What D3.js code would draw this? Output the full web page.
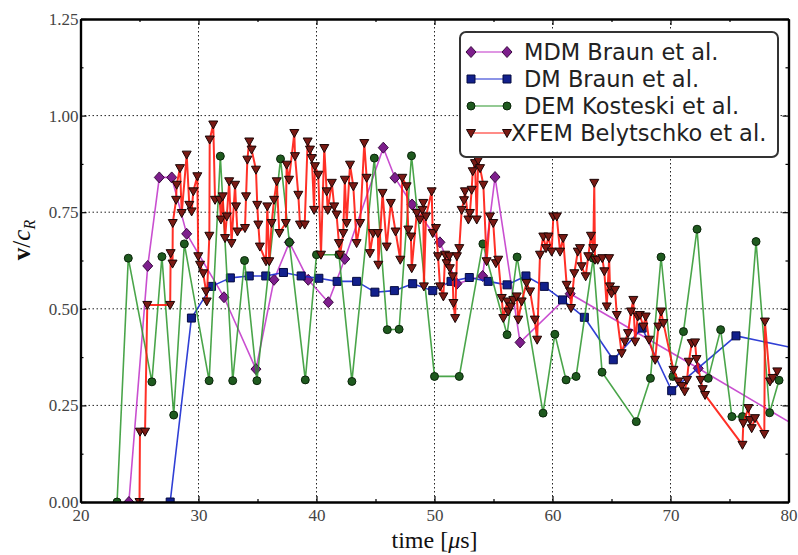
<!DOCTYPE html>
<html><head><meta charset="utf-8">
<script src="https://cdn.jsdelivr.net/npm/d3@7"></script>
<style>body{margin:0;background:#fff}</style>
</head><body><svg id="c" width="798" height="555"></svg>
<script>
// ---------- data ----------
const xTicks=[20,30,40,50,60,70,80];
const xMinor=[25,35,45,55,65,75];
const yTicks=[0,0.25,0.5,0.75,1.0,1.25];
const yMinor=[0.125,0.375,0.625,0.875,1.125];
const seriesNames=["MDM Braun et al.","DM Braun et al.","DEM Kosteski et al.","XFEM Belytschko et al."];

const mdmTime=[24.1,25.7,26.68,27.73,29.0,32.16,34.87,36.4,37.7,39.3,41.0,42.4,45.66,46.65,48.1,50.46,51.9,54.08,55.13,57.25,61.5,72.35,81.0];
const mdmVel =[0,0.611,0.84,0.84,0.694,0.53,0.344,0.575,0.672,0.575,0.517,0.629,0.917,0.839,0.77,0.672,0.565,0.585,0.841,0.413,0.539,0.346,0.19];

const dmTime=[27.6,29.4,31.1,32.7,34.3,35.7,37.2,38.7,40.2,41.75,43.4,44.95,46.6,48.15,49.85,51.4,52.95,54.55,56.15,57.75,59.3,60.85,62.7,65.15,67.6,70.1,75.55,81.0];
const dmVel =[0,0.476,0.558,0.58,0.585,0.585,0.594,0.585,0.579,0.571,0.571,0.543,0.547,0.565,0.547,0.571,0.581,0.571,0.562,0.585,0.558,0.523,0.478,0.368,0.45,0.288,0.43,0.395];

const demTime=[23.1,24.05,26.05,26.9,27.9,28.8,30.9,31.85,32.9,33.9,34.95,36.95,37.7,39.05,40.0,41.9,43.0,44.9,46.0,47.0,48.05,50.0,52.1,54.1,56.15,57.0,59.2,60.2,61.15,62.0,63.45,64.2,67.1,68.3,69.2,70.2,71.1,72.25,73.2,74.25,75.2,76.1,77.25,78.4,79.2];
const demVel =[0,0.631,0.311,0.635,0.225,0.668,0.314,0.895,0.314,0.625,0.314,0.888,0.672,0.316,0.64,0.64,0.312,0.89,0.446,0.447,0.896,0.325,0.325,0.668,0.433,0.634,0.23,0.434,0.316,0.325,0.631,0.336,0.208,0.32,0.634,0.325,0.441,0.706,0.32,0.446,0.221,0.221,0.674,0.231,0.315];

const xfemTime=[25.0,25.04,25.47,25.66,27.6,27.64,27.8,27.82,28.1,28.15,28.43,28.58,29.0,29.22,29.42,29.56,29.9,29.98,30.13,30.4,30.64,30.7,30.92,30.95,31.25,31.4,31.8,31.9,32.05,32.25,32.4,32.6,32.8,33.1,33.18,33.3,33.94,34.03,34.14,34.3,34.5,34.87,34.98,35.07,35.2,35.72,35.83,36.0,36.2,36.4,36.63,36.85,37.4,37.47,37.67,38.12,38.18,38.46,38.6,39.0,39.25,39.45,39.6,39.8,39.87,40.15,40.38,40.66,40.86,40.95,41.3,41.5,41.7,41.9,42.0,42.27,42.4,42.56,42.84,43.12,43.4,43.7,44.05,44.25,44.53,44.8,45.2,45.24,45.6,45.95,46.3,46.7,47.1,47.27,47.64,47.78,48.0,48.07,48.5,48.77,48.97,49.05,49.1,49.28,49.76,49.85,50.13,50.3,50.47,50.75,50.9,51.03,51.25,51.3,51.54,51.6,51.75,51.9,52.1,52.3,52.5,52.58,52.87,53.0,53.15,53.24,53.43,53.58,53.7,53.86,54.14,54.42,54.7,54.98,55.2,55.4,55.7,55.83,56.17,56.25,56.46,56.68,56.97,57.1,57.39,57.8,58.1,58.5,58.7,58.94,59.22,59.45,59.65,59.93,60.07,60.36,60.64,60.9,61.2,61.5,61.57,61.85,62.14,62.33,62.47,62.81,63.03,63.26,63.46,63.54,63.6,63.83,64.22,64.39,64.6,64.8,64.87,65.0,65.3,65.45,65.86,66.14,66.4,66.65,66.85,67.0,67.22,67.4,67.7,67.9,68.18,68.7,68.97,69.2,69.4,70.25,70.66,70.95,71.2,71.4,71.55,71.8,72.08,72.2,72.56,72.73,72.93,76.1,76.17,76.6,76.74,76.88,77.16,77.95,78.0,78.43,78.66,79.05];
const xfemVel =[0,0.182,0.182,0.51,0.51,0.644,0.617,0.722,0.782,0.821,0.864,0.748,0.899,0.769,0.752,0.804,0.843,0.636,0.614,0.592,0.545,0.519,0.689,0.938,0.977,0.782,0.782,0.731,0.791,0.683,0.739,0.83,0.67,0.821,0.765,0.7,0.709,0.791,0.886,0.933,0.912,0.86,0.769,0.718,0.661,0.623,0.765,0.623,0.722,0.782,0.83,0.696,0.722,0.873,0.834,0.955,0.895,0.795,0.718,0.718,0.933,0.912,0.89,0.756,0.869,0.847,0.64,0.916,0.804,0.756,0.826,0.765,0.744,0.67,0.64,0.696,0.834,0.722,0.873,0.817,0.67,0.722,0.929,0.839,0.644,0.696,0.696,0.614,0.8,0.661,0.774,0.70,0.627,0.839,0.817,0.705,0.687,0.605,0.748,0.731,0.756,0.774,0.558,0.739,0.804,0.696,0.709,0.636,0.558,0.532,0.64,0.618,0.636,0.605,0.584,0.515,0.476,0.636,0.657,0.756,0.781,0.804,0.731,0.748,0.808,0.856,0.877,0.731,0.884,0.864,0.821,0.623,0.739,0.722,0.618,0.627,0.528,0.476,0.519,0.493,0.506,0.523,0.532,0.472,0.519,0.567,0.545,0.472,0.42,0.64,0.687,0.657,0.687,0.648,0.739,0.739,0.648,0.683,0.562,0.545,0.502,0.592,0.648,0.657,0.61,0.584,0.636,0.689,0.657,0.826,0.627,0.627,0.631,0.597,0.506,0.631,0.558,0.54,0.549,0.484,0.385,0.415,0.437,0.493,0.523,0.415,0.48,0.484,0.454,0.48,0.42,0.368,0.454,0.493,0.463,0.342,0.312,0.3,0.286,0.316,0.363,0.411,0.413,0.37,0.316,0.292,0.277,0.148,0.204,0.243,0.212,0.191,0.217,0.176,0.467,0.312,0.321,0.338];

// ---------- layout ----------
const W=798,H=555, L=80.5,R=788.5,T=19,B=502;
const x=d3.scaleLinear().domain([20,80]).range([L,R]);
const y=d3.scaleLinear().domain([0,1.25]).range([B,T]);
const svg=d3.select('#c');
svg.append('rect').attr('width',W).attr('height',H).attr('fill','#fff');
svg.append('defs').append('clipPath').attr('id','clip').append('rect')
  .attr('x',L).attr('y',T).attr('width',R-L).attr('height',B-T);

// grid
const grid=svg.append('g').attr('stroke','#222').attr('stroke-width',1).attr('stroke-dasharray','1.5,2.5');
grid.selectAll('.gx').data(xTicks.slice(1,-1)).join('line')
  .attr('x1',d=>x(d)).attr('x2',d=>x(d)).attr('y1',T).attr('y2',B);
grid.selectAll('.gy').data(yTicks.slice(1,-1)).join('line')
  .attr('y1',d=>y(d)).attr('y2',d=>y(d)).attr('x1',L).attr('x2',R);

// markers
function markerPath(type){
  if(type==='diamond') return 'M0,-5.5L5,0L0,5.5L-5,0Z';
  if(type==='square') return 'M-4,-4H4V4H-4Z';
  if(type==='circle') return d3.symbol(d3.symbolCircle,50)();
  return 'M-4.5,-3.5L4.5,-3.5L0,4.5Z';
}
const styles=[
  {time:mdmTime,vel:mdmVel,line:'#c030c8',fill:'#7d1e8c',edge:'#3a0a40',m:'diamond',w:1.6,o:0.85},
  {time:dmTime,vel:dmVel,line:'#1a2ad0',fill:'#12208c',edge:'#050a40',m:'square',w:1.6,o:0.9},
  {time:demTime,vel:demVel,line:'#2a952a',fill:'#1f5a1f',edge:'#0a250a',m:'circle',w:1.6,o:0.85},
  {time:xfemTime,vel:xfemVel,line:'#ff1a10',fill:'#7a1a14',edge:'#1a0505',m:'tri',w:2,o:0.9}
];
const plot=svg.append('g').attr('clip-path','url(#clip)');
const lineGen=d3.line().x(d=>x(d[0])).y(d=>y(d[1]));
styles.forEach(s=>{
  const pts=s.time.map((t,i)=>[t,s.vel[i]]);
  const g=plot.append('g');
  g.append('path').attr('d',lineGen(pts)).attr('fill','none')
    .attr('stroke',s.line).attr('stroke-width',s.w).attr('stroke-opacity',s.o).attr('stroke-linejoin','round');
  g.selectAll('path.m').data(pts).join('path').attr('class','m')
    .attr('d',markerPath(s.m)).attr('transform',d=>`translate(${x(d[0])},${y(d[1])})`)
    .attr('fill',s.fill).attr('stroke',s.edge).attr('stroke-width',1);
});

// axes (inward ticks on all sides)
const fontTick='Liberation Serif, DejaVu Serif, serif';
function styleAxis(g){
  g.select('.domain').attr('stroke','#000').attr('stroke-width',2.2);
  g.selectAll('.tick line').attr('stroke','#000').attr('stroke-width',1.2);
  g.selectAll('text').attr('font-family',fontTick).attr('font-size',17).attr('fill','#444');
}
svg.append('g').attr('transform',`translate(0,${B})`)
  .call(d3.axisBottom(x).tickValues(xMinor).tickSize(-3).tickSizeOuter(0).tickFormat(''))
  .call(styleAxis);
svg.append('g').attr('transform',`translate(0,${T})`)
  .call(d3.axisTop(x).tickValues(xMinor).tickSize(-3).tickSizeOuter(0).tickFormat(''))
  .call(styleAxis);
svg.append('g').attr('transform',`translate(${L},0)`)
  .call(d3.axisLeft(y).tickValues(yMinor).tickSize(-3).tickSizeOuter(0).tickFormat(''))
  .call(styleAxis);
svg.append('g').attr('transform',`translate(${R},0)`)
  .call(d3.axisRight(y).tickValues(yMinor).tickSize(-3).tickSizeOuter(0).tickFormat(''))
  .call(styleAxis);
svg.append('g').attr('transform',`translate(0,${B})`)
  .call(d3.axisBottom(x).tickValues(xTicks).tickSize(-6).tickSizeOuter(0).tickPadding(7).tickFormat(d3.format('d')))
  .call(styleAxis);
svg.append('g').attr('transform',`translate(0,${T})`)
  .call(d3.axisTop(x).tickValues(xTicks).tickSize(-6).tickSizeOuter(0).tickFormat(''))
  .call(styleAxis);
svg.append('g').attr('transform',`translate(${L},0)`)
  .call(d3.axisLeft(y).tickValues(yTicks).tickSize(-6).tickSizeOuter(0).tickPadding(2).tickFormat(d3.format('.2f')))
  .call(styleAxis);
svg.append('g').attr('transform',`translate(${R},0)`)
  .call(d3.axisRight(y).tickValues(yTicks).tickSize(-6).tickSizeOuter(0).tickFormat(''))
  .call(styleAxis);

// axis labels
const xl=svg.append('text').attr('x',(L+R)/2).attr('y',548).attr('text-anchor','middle')
  .attr('font-family',fontTick).attr('font-size',24).attr('fill','#111');
xl.append('tspan').text('time [');
xl.append('tspan').attr('font-style','italic').text('μ');
xl.append('tspan').text('s]');
const yl=svg.append('text').attr('transform','translate(30,240) rotate(-90)').attr('text-anchor','middle')
  .attr('font-family',fontTick).attr('font-size',25).attr('fill','#111');
yl.append('tspan').attr('font-weight','bold').text('v');
yl.append('tspan').text('/');
yl.append('tspan').attr('font-style','italic').text('c');
yl.append('tspan').attr('font-style','italic').attr('font-size',16).attr('dy',5).text('R');

// legend
const lg=svg.append('g');
lg.append('rect').attr('x',460).attr('y',32).attr('width',318).attr('height',125).attr('rx',6)
  .attr('fill','#fff').attr('stroke','#333').attr('stroke-width',2);
styles.forEach((s,i)=>{
  const cy=52+i*27;
  lg.append('line').attr('x1',471).attr('x2',507).attr('y1',cy).attr('y2',cy)
    .attr('stroke',s.line).attr('stroke-opacity',0.5).attr('stroke-width',2);
  [471,507].forEach(px=>lg.append('path').attr('d',markerPath(s.m))
    .attr('transform',`translate(${px},${cy})`).attr('fill',s.fill).attr('stroke',s.edge).attr('stroke-width',1));
  lg.append('text').attr('x',i<3?524:511).attr('y',cy+8).text(seriesNames[i])
    .attr('font-family','DejaVu Sans, Verdana, sans-serif').attr('font-size',22.5).attr('fill','#222');
});
</script></body></html>
